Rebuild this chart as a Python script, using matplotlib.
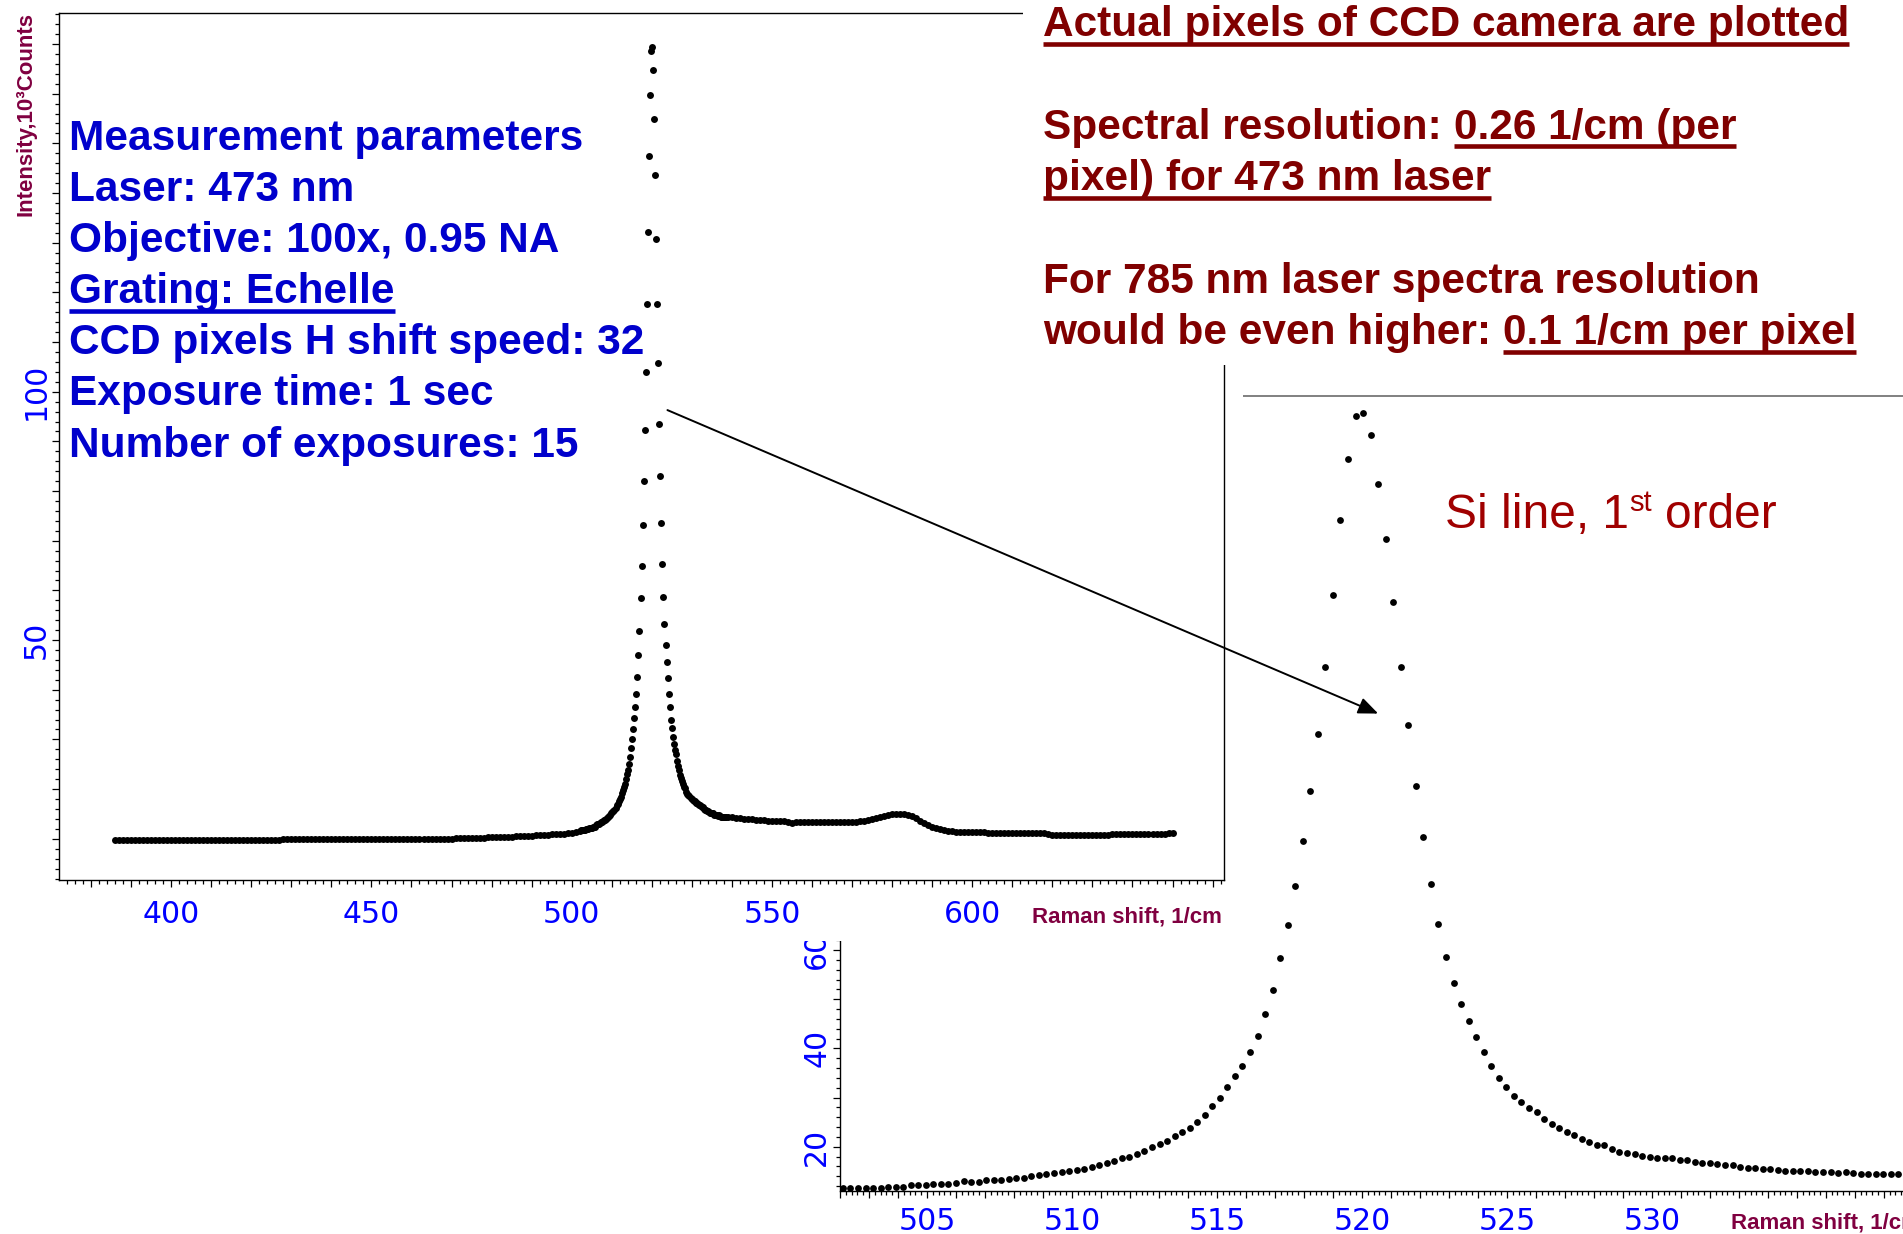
import numpy as np
import matplotlib
matplotlib.use('Agg')
import matplotlib.pyplot as plt
from matplotlib.ticker import MultipleLocator, FuncFormatter
from matplotlib.patches import Rectangle, ConnectionPatch
from matplotlib.lines import Line2D

# tick labels in DejaVu, all other text in Liberation Sans
plt.rcParams['font.family'] = ['DejaVu Sans']
plt.rcParams['ytick.alignment'] = 'center'

# ---------------------------------------------------------------------------
# data
# ---------------------------------------------------------------------------
# CCD pixels around the Si line, 0.26 1/cm per pixel starting at 502.1 1/cm
si_start = 502.1
si_step = 0.26
si_counts = [
    11.5, 11.7, 11.7, 11.7, 11.7, 11.7, 11.9, 11.9, 11.9, 12.2,
    12.2, 12.2, 12.4, 12.4, 12.4, 12.7, 12.95, 12.9, 12.9, 13.15,
    13.3, 13.3, 13.5, 13.7, 13.7, 14.0, 14.2, 14.4, 14.6, 14.85,
    15.1, 15.3, 15.5, 15.8, 16.2, 16.7, 17.1, 17.6, 18.0, 18.5,
    19.2, 19.9, 20.5, 21.1, 22.1, 23.05, 23.9, 25.0, 26.4, 28.2,
    30.0, 32.1, 34.3, 36.5, 39.2, 42.6, 46.9, 51.9, 58.4, 65.0,
    73.1, 82.1, 92.3, 104.0, 117.6, 132.2, 147.4, 159.8, 168.6, 169.3,
    164.7, 154.8, 143.7, 130.7, 117.6, 105.7, 93.4, 83.0, 73.5, 65.4,
    58.6, 53.2, 49.1, 45.6, 42.4, 39.2, 36.5, 34.0, 32.2, 30.4,
    29.0, 27.9, 27.0, 25.7, 24.7, 23.8, 22.9, 22.3, 21.6, 21.0,
    20.4, 20.3, 19.5, 19.0, 18.8, 18.6, 18.2, 18.0, 17.8, 17.6,
    17.6, 17.2, 17.2, 16.9, 16.7, 16.7, 16.5, 16.3, 16.3, 15.9,
    15.7, 15.7, 15.5, 15.5, 15.3, 15.1, 15.1, 15.1, 15.1, 14.85,
    14.85, 14.85, 14.65, 14.85, 14.65, 14.45, 14.45, 14.45, 14.45, 14.45,
    14.45,
]
si_shift = si_start + si_step * np.arange(len(si_counts))

# rest of the wide spectrum (1/cm, 10^3 counts)
low_shift = list(range(386, 502))
low_counts = [
    9.7, 9.7, 9.7, 9.7, 9.7, 9.7, 9.7, 9.7, 9.7, 9.7,
    9.7, 9.7, 9.7, 9.7, 9.7, 9.7, 9.7, 9.7, 9.7, 9.7,
    9.7, 9.7, 9.7, 9.7, 9.7, 9.7, 9.7, 9.7, 9.7, 9.7,
    9.7, 9.7, 9.7, 9.7, 9.7, 9.7, 9.7, 9.7, 9.7, 9.7,
    9.7, 9.7,
    9.9, 9.9, 9.9, 9.9, 9.9, 9.9, 9.9, 9.9, 9.9, 9.9,
    9.9, 9.9, 9.9, 9.9, 9.9, 9.9, 9.9, 9.9, 9.9, 9.9,
    9.9, 9.9, 9.9,
    10.0, 10.0, 10.0, 10.0, 10.0, 10.0, 10.0, 10.0, 10.0, 10.0,
    10.0, 10.0, 10.0, 10.0, 10.0, 10.0, 10.0, 10.0, 10.0, 10.0,
    10.1, 10.1, 10.15, 10.2, 10.2, 10.2, 10.25, 10.25, 10.3,
    10.3, 10.3, 10.35, 10.4, 10.4, 10.45, 10.5, 10.5, 10.55, 10.6,
    10.65, 10.7, 10.75, 10.8, 10.85, 10.9, 10.95, 11.0, 11.05, 11.15,
    11.25, 11.35,
]
high_shift = list(range(539, 651))
high_counts = [
    14.4, 14.3, 14.2, 14.1, 14.0, 13.95, 13.9, 13.8, 13.75, 13.7,
    13.65, 13.6, 13.55, 13.5, 13.5, 13.45, 13.2, 13.4, 13.4, 13.4,
    13.4, 13.4, 13.4, 13.4, 13.4, 13.4, 13.4, 13.3, 13.3, 13.3,
    13.3, 13.3, 13.4, 13.5, 13.5, 13.7, 14.0, 14.2, 14.4, 14.6,
    14.7, 14.9, 15.0, 15.0, 15.0, 14.85, 14.5, 14.1, 13.6, 13.2,
    12.8, 12.4, 12.1, 11.9, 11.7, 11.6, 11.5, 11.45, 11.4, 11.4,
    11.35, 11.3, 11.3, 11.3, 11.3, 11.25, 11.25, 11.2, 11.2, 11.2,
    11.2, 11.2, 11.15, 11.15, 11.15, 11.15, 11.15, 11.15, 11.15, 11.15,
    10.9, 10.85, 10.85, 10.8, 10.8, 10.8, 10.8, 10.8, 10.8, 10.8,
    10.8, 10.8, 10.8, 10.85, 10.85, 10.85, 10.9, 10.9, 10.9, 10.9,
    10.95, 10.95, 10.95, 11.0, 11.0, 11.0, 11.0, 11.05, 11.05, 11.05,
    11.1, 11.1,
]

# labelled ticks that are visible in the picture
main_x_labels = [400, 450, 500, 550, 600]
main_y_labels = [50, 100]
inset_x_labels = [505, 510, 515, 520, 525, 530]
inset_y_labels = [20, 40, 60]

blue_lines = ["Measurement parameters", "Laser: 473 nm", "Objective: 100x, 0.95 NA",
              "Grating: Echelle", "CCD pixels H shift speed: 32",
              "Exposure time: 1 sec", "Number of exposures: 15"]
blue_underlined = [False, False, False, True, False, False, False]

red_lines = [
    [("Actual pixels of CCD camera are plotted", True)],
    [("Spectral resolution: ", False), ("0.26 1/cm (per", True)],
    [("pixel) for 473 nm laser", True)],
    [("For 785 nm laser spectra resolution", False)],
    [("would be even higher: ", False), ("0.1 1/cm per pixel", True)],
]

# ---------------------------------------------------------------------------
W, H = 1903, 1234
fig = plt.figure(figsize=(W / 100, H / 100), dpi=100)
fig.patch.set_facecolor('white')
rend = fig.canvas.get_renderer()


def fx(px):
    return px / W


def fy(py):
    return 1 - py / H


def only(keep):
    return FuncFormatter(lambda v, pos: f'{v:.0f}' if round(v) in keep and abs(v - round(v)) < 1e-6 else '')


def style_axis(a):
    a.tick_params(which='both', direction='out', color='black', width=0.9,
                  top=False, right=False, labelcolor='#0000FF', labelsize=21.5)
    a.tick_params(which='major', length=5)
    a.tick_params(which='minor', length=2.8)
    a.tick_params(axis='y', labelrotation=90, pad=1)
    for s in a.spines.values():
        s.set_linewidth(1.0)


# inset: zoom on the Si line (drawn first, partly hidden by the main plot)
ax_in = fig.add_axes([fx(839.7), fy(1190.7), (1930 - 839.7) / W, (1190.7 - 396) / H], zorder=0)
ax_in.plot(si_shift, si_counts, 'o', color='black', markersize=4.9, markeredgewidth=0)
ax_in.set_xlim(501.99, 539.59)
ax_in.set_ylim(11.05, 172.7)
ax_in.xaxis.set_major_locator(MultipleLocator(1))
ax_in.xaxis.set_minor_locator(MultipleLocator(0.2))
ax_in.xaxis.set_major_formatter(only(inset_x_labels))
ax_in.yaxis.set_major_locator(MultipleLocator(10))
ax_in.yaxis.set_minor_locator(MultipleLocator(2))
ax_in.yaxis.set_major_formatter(only(inset_y_labels))
style_axis(ax_in)
ax_in.tick_params(axis='x', pad=6.5)
ax_in.spines['top'].set_color('#808080')
ax_in.spines['top'].set_linewidth(1.4)

# white sheet behind the main plot
fig.add_artist(Rectangle((0, fy(941)), fx(1243), 941 / H, transform=fig.transFigure,
                         facecolor='white', edgecolor='none', zorder=1))

# main spectrum
ax = fig.add_axes([fx(59.4), fy(880), (1223.8 - 59.4) / W, (880 - 12.7) / H], zorder=2)
ax.plot(low_shift, low_counts, 'o', color='black', markersize=5, markeredgewidth=0)
ax.plot(si_shift, si_counts, 'o', color='black', markersize=5, markeredgewidth=0)
ax.plot(high_shift, high_counts, 'o', color='black', markersize=5, markeredgewidth=0)
ax.set_xlim(372.1, 662.8)
ax.set_ylim(1.7, 176.3)
ax.xaxis.set_major_locator(MultipleLocator(10))
ax.xaxis.set_minor_locator(MultipleLocator(2))
ax.xaxis.set_major_formatter(only(main_x_labels))
ax.yaxis.set_major_locator(MultipleLocator(10))
ax.yaxis.set_minor_locator(MultipleLocator(2))
ax.yaxis.set_major_formatter(only(main_y_labels))
style_axis(ax)
ax.tick_params(axis='x', pad=9.5)

# white sheet behind the notes at the top right
fig.add_artist(Rectangle((fx(1023), fy(365)), 1 - fx(1023), 365 / H, transform=fig.transFigure,
                         facecolor='white', edgecolor='none', zorder=3))

# axis titles
lab = dict(family='Liberation Sans', weight='bold', fontsize=16, color='#800040', zorder=5)
fig.text(fx(26), fy(12), "Intensity,10³Counts", rotation=90, ha='center', va='top', **lab)
fig.text(fx(1032), fy(922.6), "Raman shift, 1/cm", ha='left', va='baseline', **lab)
fig.text(fx(1731), fy(1229), "Raman shift, 1/cm", ha='left', va='baseline', **lab)


def text_width(s, **kw):
    t = fig.text(0, 0, s + '|', **kw)
    w1 = t.get_window_extent(rend).width
    t.set_text('|')
    w2 = t.get_window_extent(rend).width
    t.remove()
    return w1 - w2


def write_runs(x, base, runs, color, size=30.5, weight='bold'):
    kw = dict(family='Liberation Sans', weight=weight, fontsize=size, color=color)
    for s, ul in runs:
        fig.text(fx(x), fy(base), s, ha='left', va='baseline', zorder=6, **kw)
        w = text_width(s, **kw)
        if ul:
            fig.add_artist(Line2D([fx(x), fx(x + text_width(s.rstrip(), **kw))],
                                  [fy(base + 7.5)] * 2, transform=fig.transFigure,
                                  color=color, lw=3.3, solid_capstyle='butt', zorder=6))
        x += w


# measurement notes (blue)
for i, (line, ul) in enumerate(zip(blue_lines, blue_underlined)):
    write_runs(69, 150 + 51.1 * i, [(line, ul)], '#0000CC')

# resolution notes (dark red)
for runs, base in zip(red_lines, [36, 138.6, 190, 292.6, 344]):
    write_runs(1043, base, runs, '#800000')

# "Si line, 1st order"
si_kw = dict(family='Liberation Sans', fontsize=34.5, color='#A00000')
sup_kw = dict(family='Liberation Sans', fontsize=21, color='#A00000')
x0 = 1445
fig.text(fx(x0), fy(528), "Si line, 1", ha='left', va='baseline', zorder=6, **si_kw)
x1 = x0 + text_width("Si line, 1", **si_kw)
fig.text(fx(x1), fy(511), "st", ha='left', va='baseline', zorder=6, **sup_kw)
x2 = x1 + text_width("st", **sup_kw) + text_width("a a", **si_kw) - text_width("aa", **si_kw)
fig.text(fx(x2), fy(528), "order", ha='left', va='baseline', zorder=6, **si_kw)

# arrow from the main peak to the zoomed view
arrow = ConnectionPatch(xyA=(523.9, 96.3), coordsA=ax.transData,
                        xyB=(520.56, 108.1), coordsB=ax_in.transData,
                        arrowstyle='-|>,head_length=0.6,head_width=0.25', mutation_scale=20,
                        color='black', lw=1.4, zorder=10)
fig.add_artist(arrow)

fig.savefig('out.png', dpi=100, facecolor='white')
